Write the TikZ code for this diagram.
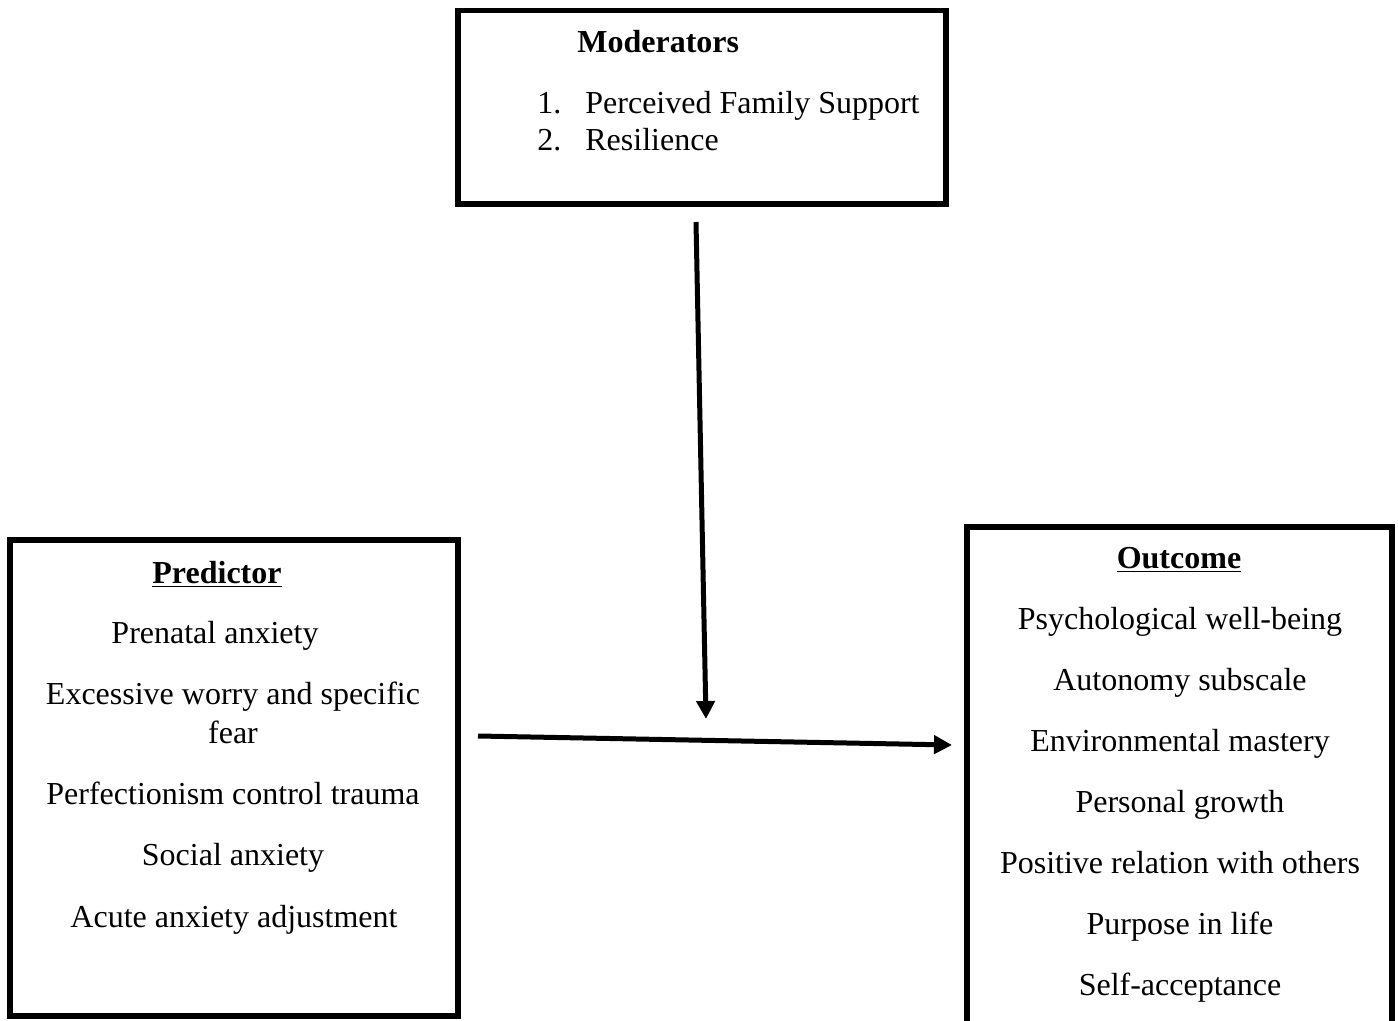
\documentclass[tikz,border=0pt]{standalone}
\usepackage{fontspec}
\setmainfont{Liberation Serif}
\usepackage{tikz}
\usetikzlibrary{arrows.meta,positioning,fit}

\begin{document}
\begin{tikzpicture}[
  x=0.5pt, y=-0.5pt,
  font=\fontsize{16}{19.5}\selectfont,
  box/.style={draw,line width=2.6pt,inner sep=0pt},
  entry/.style={anchor=base,inner sep=0pt},
  arrow/.style={-{Triangle[length=9pt,width=9pt]},line width=2.5pt}
]
\useasboundingbox (0,0) rectangle (1398,1021);

% the three boxes
\node[box,fit={(458,10.5) (946,204)}] (mod) {};
\node[box,fit={(10,540) (458,1016)}] (pred) {};
\node[box,fit={(967,527) (1392,1040)}] (out) {};

% moderators
\node[entry,anchor=base west] (modhead) at (577,53) {\textbf{Moderators}};
\node[entry,anchor=base west] (modnum1) at (537,114) {1.};
\node[entry,anchor=base west] (modnum2) at (537,151) {2.};
\node[entry,anchor=base west] (fam) at (585,114) {Perceived Family Support};
\node[entry,anchor=base west] (res) at (585,151) {Resilience};

% predictor
\node[entry] (predhead) at (217,583) {\underline{\textbf{Predictor}}};
\node[entry] (prenatal) at (215,643) {Prenatal anxiety};
\node[entry] (worry) at (233,704) {Excessive worry and specific};
\node[entry] (fear) at (233,743) {fear};
\node[entry] (perfect) at (233,804) {Perfectionism control trauma};
\node[entry] (social) at (233,865) {Social anxiety};
\node[entry] (acute) at (234,927) {Acute anxiety adjustment};

% outcome
\node[entry] (outhead) at (1179,568) {\underline{\textbf{Outcome}}};
\node[entry] (wellbeing) at (1180,629) {Psychological well-being};
\node[entry] (autonomy) at (1180,690) {Autonomy subscale};
\node[entry] (mastery) at (1180,751) {Environmental mastery};
\node[entry] (growth) at (1180,812) {Personal growth};
\node[entry] (relation) at (1180,873) {Positive relation with others};
\node[entry] (purpose) at (1180,934) {Purpose in life};
\node[entry] (accept) at (1180,995) {Self-acceptance};

% connectors
\coordinate (modfoot) at (696,222);
\coordinate (join) at (706,719);
\coordinate (predfoot) at (478,736);
\coordinate (outtip) at (952,745);
\draw[arrow] (modfoot) -- (join);
\draw[arrow] (predfoot) -- (outtip);
\end{tikzpicture}
\end{document}
